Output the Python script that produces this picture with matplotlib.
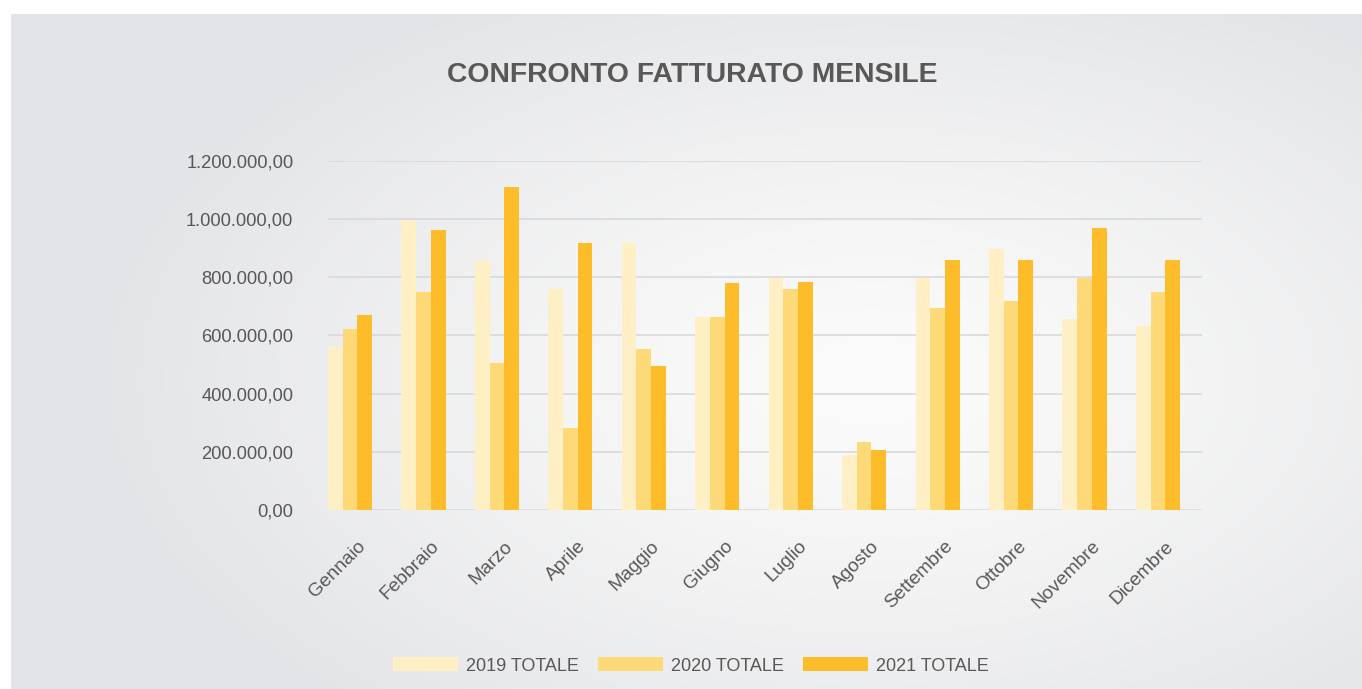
import numpy as np
import matplotlib
matplotlib.use("Agg")
import matplotlib.pyplot as plt
from matplotlib.ticker import FuncFormatter, MultipleLocator
from matplotlib.transforms import ScaledTranslation

# monthly turnover values
mesi = ["Gennaio", "Febbraio", "Marzo", "Aprile", "Maggio", "Giugno",
        "Luglio", "Agosto", "Settembre", "Ottobre", "Novembre", "Dicembre"]
tot_2019 = [562000, 995000, 857000, 760000, 917000, 664000,
            798000, 191000, 798000, 898000, 657000, 634000]
tot_2020 = [622000, 750000, 507000, 281000, 554000, 664000,
            760000, 234000, 693000, 718000, 798000, 750000]
tot_2021 = [671000, 963000, 1110000, 917000, 496000, 780000,
            785000, 206000, 858000, 858000, 970000, 858000]
serie = ["2019 TOTALE", "2020 TOTALE", "2021 TOTALE"]
colori = ["#fef0c4", "#fdd978", "#fdbd2a"]

testo = "#585858"
plt.rcParams['font.family'] = ['Liberation Sans', 'DejaVu Sans']

fig = plt.figure(figsize=(13.62, 6.89), dpi=100)
fig.patch.set_facecolor("white")

# grey radial background (white frame on left/top)
W, H = 1362, 689
x0, y0 = 11, 14
bg = fig.add_axes([x0 / W, 0, 1 - x0 / W, (H - y0) / H], zorder=-10)
xx, yy = np.meshgrid(np.arange(x0, W), np.arange(y0, H))
r = np.sqrt(((xx - 870) / 760.0) ** 2 + ((yy - 380) / 430.0) ** 2)
r = np.clip(r, 0, 1)
c_in = np.array([0.985, 0.985, 0.985])
c_out = np.array([0.894, 0.898, 0.906])
img = c_in + (c_out - c_in) * (r[..., None] ** 1.3)
bg.imshow(img, aspect="auto", interpolation="bilinear")
bg.axis("off")

ax = fig.add_axes([328 / W, 1 - 510.3 / H, (1202 - 328) / W, (510.3 - 160.7) / H])
ax.set_facecolor("none")

x = np.arange(len(mesi))
w = 0.2
for k, vals in enumerate([tot_2019, tot_2020, tot_2021]):
    ax.bar(x + (k - 1) * w, vals, width=w, color=colori[k], label=serie[k],
           zorder=3, linewidth=0)

ax.set_xlim(-0.3, 11.6)
ax.set_ylim(0, 1200000)
ax.yaxis.set_major_locator(MultipleLocator(200000))

def fmt_it(v, pos):
    s = f"{v:,.2f}"
    return s.replace(",", "X").replace(".", ",").replace("X", ".")

ax.yaxis.set_major_formatter(FuncFormatter(fmt_it))
ax.grid(axis="y", color="#d6d7d9", linewidth=1.1, zorder=0)
ax.set_axisbelow(True)
for s in ax.spines.values():
    s.set_visible(False)
ax.tick_params(axis="both", length=0, colors=testo, labelsize=13.2)
ax.tick_params(axis="y", pad=25)
ax.tick_params(axis="x", pad=24, labelsize=13.8)

ax.set_xticks(x)
ax.set_xticklabels(mesi, rotation=45, ha="right", va="center", rotation_mode="anchor")
sposta = ScaledTranslation(13 / 100, 0, fig.dpi_scale_trans)
for lab in ax.get_xticklabels():
    lab.set_transform(lab.get_transform() + sposta)

fig.text(692 / W, 1 - 75 / H, "CONFRONTO FATTURATO MENSILE", ha="center", va="center",
         fontsize=20.4, fontweight="bold", color=testo)

leg = fig.legend(loc="center", bbox_to_anchor=(691 / W, 1 - 666 / H), ncol=3,
                 frameon=False, fontsize=13, handlelength=3.6, handleheight=0.8,
                 handletextpad=0.45, columnspacing=1.05, labelcolor=testo)

fig.savefig("out.png", dpi=100)
